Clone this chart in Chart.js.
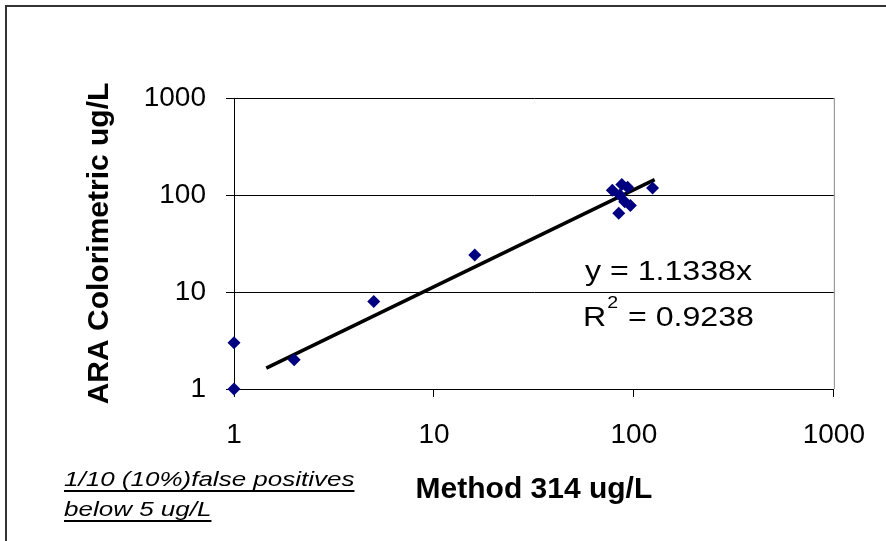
<!DOCTYPE html>
<html>
<head>
<meta charset="utf-8">
<script src="https://cdn.jsdelivr.net/npm/chart.js@4/dist/chart.umd.min.js"></script>
<style>
  html, body { margin: 0; padding: 0; background: #fff; }
  #wrap { width: 886px; height: 541px; position: relative; }
</style>
</head>
<body>
<div id="wrap"><canvas id="chart"></canvas></div>
<script>
// values
var method314 = [1, 1, 2, 5, 16, 78, 85, 87, 93, 90, 96, 84, 124];
var araColor = [1, 3, 2, 8, 24, 112, 100, 128, 120, 85, 78, 65, 118];
var slope = 1.1338;
var trendX = [1.45, 127];
var axisTicks = [1, 10, 100, 1000];

var font = 'Liberation Sans, Arial, sans-serif';

var points = method314.map(function (x, i) { return { x: x, y: araColor[i] }; });
var trend = trendX.map(function (x) { return { x: x, y: slope * x }; });

// draw text stretched horizontally (reference text is wider than plain Arial)
function wideText(c, t, x, y, sx) {
  c.save();
  c.translate(x, y);
  c.scale(sx, 1);
  c.fillText(t, 0, 0);
  c.restore();
  return c.measureText(t).width * sx;
}

var extras = {
  id: 'extras',
  beforeDraw: function (chart) {
    var c = chart.ctx;
    c.save();
    c.fillStyle = '#fff';
    c.fillRect(0, 0, chart.width, chart.height);
    // outer frame (top + left only visible)
    c.strokeStyle = '#333';
    c.lineWidth = 2;
    c.beginPath();
    c.moveTo(6, chart.height);
    c.lineTo(6, 6);
    c.lineTo(chart.width, 6);
    c.stroke();
    c.restore();
  },
  afterDatasetsDraw: function (chart) {
    var c = chart.ctx;
    var a = chart.chartArea;
    c.save();
    // plot area right edge
    c.strokeStyle = '#888';
    c.lineWidth = 1;
    c.beginPath();
    c.moveTo(a.right + 0.5, a.top);
    c.lineTo(a.right + 0.5, a.bottom);
    c.stroke();

    // trendline equation
    c.fillStyle = '#000';
    c.textBaseline = 'alphabetic';
    c.textAlign = 'left';
    c.font = '27px ' + font;
    wideText(c, 'y = 1.1338x', 585, 280, 1.19);
    var x = 583;
    x += wideText(c, 'R', x, 326, 1.19);
    c.font = '17px ' + font;
    x += wideText(c, '2', x + 1, 308, 1.15) + 2;
    c.font = '27px ' + font;
    wideText(c, ' = 0.9238', x, 326, 1.19);

    // footnote
    c.font = 'italic 20px ' + font;
    var lines = ['1/10 (10%)false positives', 'below 5 ug/L'];
    var ys = [486, 516];
    lines.forEach(function (t, i) {
      var w = wideText(c, t, 64, ys[i], 1.3);
      c.fillRect(64, ys[i] + 4, w, 2);
    });
    c.restore();
  }
};

new Chart(document.getElementById('chart'), {
  type: 'scatter',
  data: {
    datasets: [
      {
        label: 'ARA Colorimetric',
        data: points,
        pointStyle: 'rectRot',
        pointRadius: 6.5,
        pointHoverRadius: 6.5,
        backgroundColor: '#000080',
        borderColor: '#000080',
        borderWidth: 0,
        clip: false
      },
      {
        label: 'Trend',
        type: 'line',
        data: trend,
        borderColor: '#000',
        borderWidth: 3.5,
        pointRadius: 0,
        fill: false
      }
    ]
  },
  options: {
    responsive: true,
    maintainAspectRatio: false,
    animation: false,
    layout: { padding: { left: 0, top: 98, right: 52, bottom: 0 } },
    plugins: {
      legend: { display: false },
      tooltip: { enabled: false }
    },
    scales: {
      x: {
        type: 'logarithmic',
        min: 1,
        max: 1000,
        afterBuildTicks: function (s) { s.ticks = axisTicks.map(function (v) { return { value: v }; }); },
        afterFit: function (s) { s.height = 152; },
        ticks: {
          color: '#000',
          font: { family: font, size: 28 },
          padding: 21,
          maxRotation: 0,
          callback: function (v) { return String(v); }
        },
        grid: { drawOnChartArea: false, color: '#000', tickLength: 8 },
        border: { color: '#000', width: 1 },
        title: {
          display: true,
          text: 'Method 314 ug/L',
          color: '#000',
          font: { family: font, size: 30, weight: 'bold' },
          padding: { top: 0, bottom: 33 }
        }
      },
      y: {
        type: 'logarithmic',
        min: 1,
        max: 1000,
        afterBuildTicks: function (s) { s.ticks = axisTicks.map(function (v) { return { value: v }; }); },
        afterFit: function (s) { s.width = 234; },
        ticks: {
          color: '#000',
          font: { family: font, size: 28 },
          padding: 20,
          callback: function (v) { return String(v); }
        },
        grid: { color: '#000', tickLength: 8 },
        border: { color: '#000', width: 1 },
        title: {
          display: true,
          text: 'ARA Colorimetric ug/L',
          color: '#000',
          font: { family: font, size: 30, weight: 'bold' },
          padding: { top: 82, bottom: 0 }
        }
      }
    }
  },
  plugins: [extras]
});
</script>
</body>
</html>
